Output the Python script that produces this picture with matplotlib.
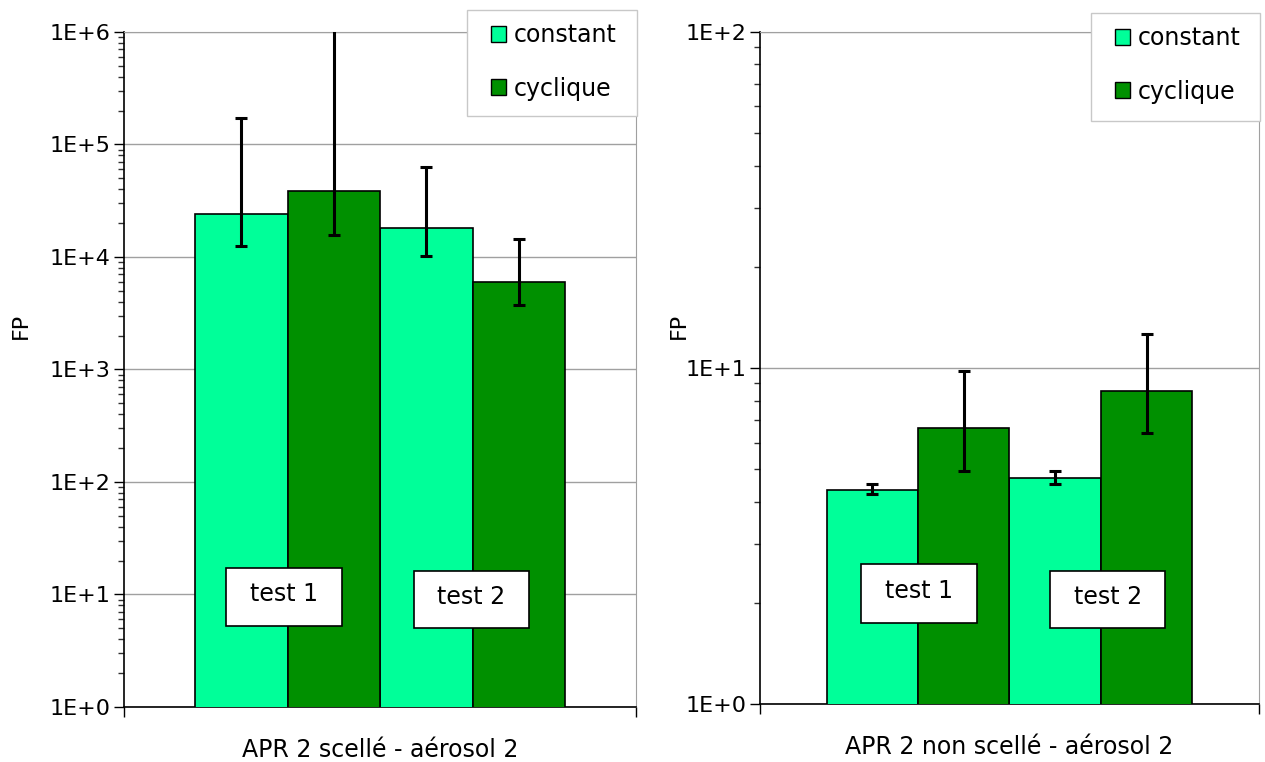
import math
import matplotlib
matplotlib.use("Agg")
import matplotlib.pyplot as plt
from matplotlib.ticker import LogLocator, FuncFormatter, NullFormatter
from matplotlib.patches import Patch, Rectangle

# données
series = ["constant", "cyclique"]
tests = ["test 1", "test 2"]
couleurs = ["#00FF99", "#009000"]

# APR 2 scellé - aérosol 2
scelle_val = [[2.41e4, 1.81e4], [3.86e4, 6.0e3]]
scelle_haut = [[1.72e5, 6.3e4], [1.2e6, 1.45e4]]
scelle_bas = [[1.25e4, 1.02e4], [1.57e4, 3.74e3]]

# APR 2 non scellé - aérosol 2
non_scelle_val = [[4.33, 4.70], [6.63, 8.54]]
non_scelle_haut = [[4.52, 4.94], [9.8, 12.6]]
non_scelle_bas = [[4.22, 4.51], [4.94, 6.4]]

plt.rcParams['font.family'] = ['DejaVu Sans']
plt.rcParams['font.size'] = 16

W, H = 1265, 762
fig = plt.figure(figsize=(W / 100, H / 100), dpi=100)
ax1 = fig.add_axes([0.098, 0.0722, 0.405, 0.886])
ax2 = fig.add_axes([0.601, 0.0761, 0.394, 0.882])


def tracer(ax, val, haut, bas, ymin, ymax, titre, xlim, pos_tests, cadre_leg, fp_coords):
    largeur = 0.5
    for i, nom in enumerate(series):
        x = [k - largeur / 2 + i * largeur for k in range(len(tests))]
        err = [[v - b for v, b in zip(val[i], bas[i])],
               [h - v for v, h in zip(val[i], haut[i])]]
        ax.bar(x, val[i], width=largeur, color=couleurs[i], edgecolor="black",
               linewidth=1.2, zorder=3)
        ax.errorbar(x, val[i], yerr=err, fmt="none", ecolor="black", elinewidth=2.2,
                    capsize=4, capthick=2.2, zorder=4)
    ax.set_yscale("log")
    ax.set_ylim(ymin, ymax)
    ax.set_xlim(*xlim)
    ax.yaxis.set_major_locator(LogLocator(base=10))
    ax.yaxis.set_minor_locator(LogLocator(base=10, subs=range(2, 10)))
    ax.yaxis.set_major_formatter(FuncFormatter(lambda v, p: "1E+%d" % round(math.log10(v))))
    ax.yaxis.set_minor_formatter(NullFormatter())
    ax.tick_params(axis="y", which="major", length=7, width=1, direction="out", pad=3)
    ax.tick_params(axis="y", which="minor", length=4, width=1, direction="out", color="#303030")
    ax.set_xticks(list(xlim))
    ax.tick_params(axis="x", length=7, width=1, direction="out", labelbottom=False)
    ax.grid(axis="y", which="major", color="#a0a0a0", linewidth=1, zorder=0)
    ax.set_axisbelow(True)
    for s in ["top", "right"]:
        ax.spines[s].set_color("#a0a0a0")
    for s in ["left", "bottom"]:
        ax.spines[s].set_color("black")
        ax.spines[s].set_linewidth(1.2)
    ax.set_xlabel(titre, labelpad=15, fontsize=17)
    ax.set_ylabel("FP", fontsize=16)
    ax.yaxis.set_label_coords(*fp_coords)

    # étiquettes "test 1" / "test 2"
    for nom, (cx, cy, w, h) in zip(tests, pos_tests):
        ax.add_patch(Rectangle((cx - w / 2, cy - h / 2), w, h, transform=ax.transAxes,
                               facecolor="white", edgecolor="black", linewidth=1.2, zorder=5))
        ax.text(cx, cy + 0.004, nom, transform=ax.transAxes, ha="center", va="center",
                fontsize=17, zorder=6)

    # légende : cadre gris + entrées
    x0, y0, x1, y1 = cadre_leg
    fig.patches.append(Rectangle((x0 / W, 1 - y1 / H), (x1 - x0) / W, (y1 - y0) / H,
                                 transform=fig.transFigure, facecolor="white",
                                 edgecolor="#c8c8c8", linewidth=1, zorder=10))
    poignees = [Patch(facecolor=c, edgecolor="black", linewidth=1) for c in couleurs]
    fig.legend(poignees, series, loc="upper left",
               bbox_to_anchor=((x0 + 24) / W, 1 - (y0 + 13) / H),
               frameon=False, fontsize=17,
               handlelength=0.65, handleheight=0.65, handletextpad=0.3,
               labelspacing=1.25, borderpad=0, borderaxespad=0).set_zorder(11)


tracer(ax1, scelle_val, scelle_haut, scelle_bas, 1, 1e6, "APR 2 scellé - aérosol 2",
       (-0.885, 1.885),
       [(0.3125, 0.163, 0.227, 0.087), (0.678, 0.159, 0.225, 0.085)],
       (467, 10, 637, 116), (-0.182, 0.564))
tracer(ax2, non_scelle_val, non_scelle_haut, non_scelle_bas, 1, 100, "APR 2 non scellé - aérosol 2",
       (-0.863, 1.863),
       [(0.319, 0.164, 0.232, 0.088), (0.697, 0.155, 0.231, 0.085)],
       (1091, 13, 1260, 121), (-0.144, 0.5625))

fig.savefig("out.png", dpi=100)
